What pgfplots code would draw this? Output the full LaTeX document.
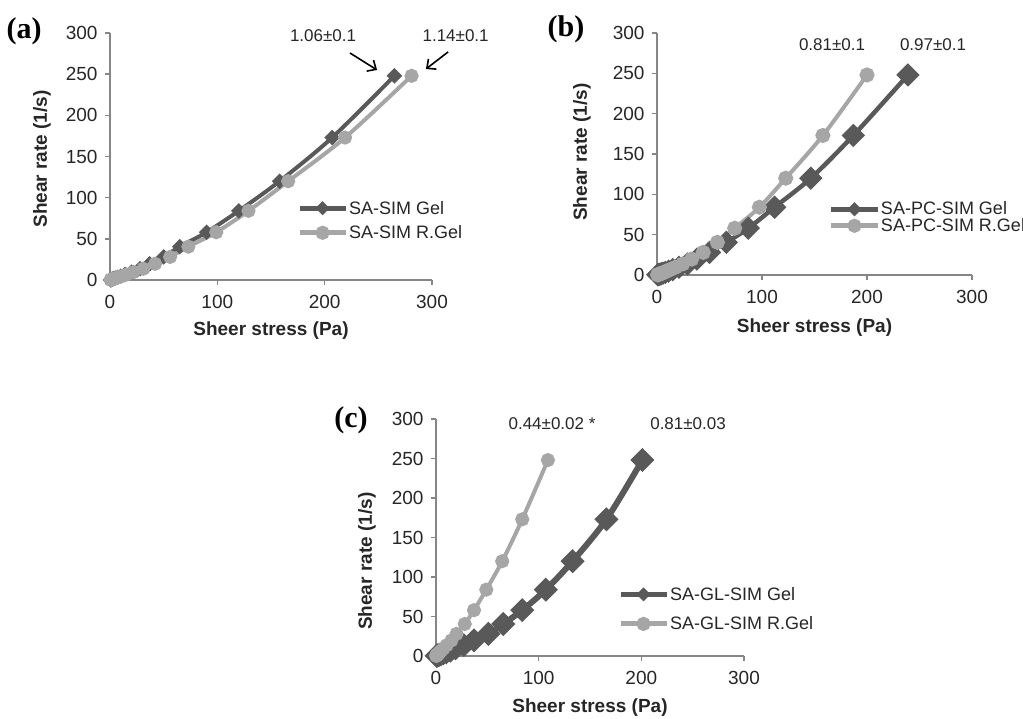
\documentclass[border=0pt]{standalone}
\usepackage{fontspec}
\setmainfont{Liberation Sans}
\newfontfamily\panelfont{Liberation Serif}
\usepackage{pgfplots}
\pgfplotsset{compat=1.18}
\usetikzlibrary{arrows.meta}

\definecolor{gelc}{HTML}{595959}
\definecolor{rgelc}{HTML}{A6A6A6}
\definecolor{axc}{HTML}{868686}
\definecolor{txt}{HTML}{262626}

\tikzset{ann/.style={font=\fontsize{17}{17}\selectfont, text=txt}}

\pgfplotsset{
  panel/.style={
    scale only axis, enlargelimits=false, clip=false,
    anchor=south west,
    xmin=0, xmax=300, ymin=0, ymax=300,
    xtick={0,100,200,300}, ytick={0,50,...,300},
    axis lines=left,
    axis line style={-, axc, line width=1.5pt},
    tick style={axc, line width=1.5pt},
    tick align=outside, major tick length=5pt,
    tick label style={font=\fontsize{19}{19}\selectfont, text=txt},
    xticklabel style={yshift=-7pt},
    yticklabel style={xshift=-4pt},
    /pgf/number format/assume math mode=true,
    label style={font=\fontsize{19}{19}\selectfont\bfseries, text=txt},
    xlabel={Sheer stress (Pa)},
    ylabel={Shear rate (1/s)},
    legend style={draw=none, fill=none, inner sep=0pt, outer sep=0pt,
      font=\fontsize{18}{18}\selectfont, text=txt,
      nodes={inner sep=1pt}, cells={anchor=west}},
    legend image code/.code={
      \draw[mark repeat=2, mark phase=2, #1]
        plot coordinates {(0pt,0pt) (23pt,0pt) (46pt,0pt)};},
  },
  gel/.style={gelc, smooth, mark=square*, mark options={rotate=45, solid, fill=gelc}},
  rgel/.style={rgelc, smooth, mark=*, mark options={solid, fill=rgelc}},
}

\begin{document}
\begin{tikzpicture}[x=1pt, y=1pt]
\useasboundingbox (0,0) rectangle (1023,718);
\coordinate (pa) at (110,438);
\coordinate (pb) at (657,443);
\coordinate (pc) at (436,62);

% (a)
\begin{axis}[panel, at={(pa)}, width=322pt, height=247pt,
  xlabel style={at={(axis description cs:0.5,-0.206)}, anchor=center},
  ylabel style={at={(axis description cs:-0.211,0.49)}, anchor=center},
  legend style={at={(axis description cs:0.581,0.324)}, anchor=north west, row sep=8pt}]
\addplot[gel, line width=4pt, mark size=3.5pt, legend image post style={mark size=2.5pt, line width=5pt}]
  coordinates {(0.5,0.26) (0.8,0.38) (1.2,0.54) (1.7,0.78) (2.5,1.1) (3.5,1.6) (5,2.3) (7,3.3) (10,4.7) (14,6.7) (20,9.6) (28,13.7) (37,19.7) (50,28) (65,40.5) (90,58) (120,84) (158,120) (207,173) (265,248)};
\addlegendentry{SA-SIM Gel}
\addplot[rgel, line width=4pt, mark size=5pt, legend image post style={mark size=4.5pt, line width=5pt}]
  coordinates {(0.6,0.26) (0.9,0.38) (1.3,0.54) (1.9,0.78) (2.7,1.1) (3.9,1.6) (5.5,2.3) (7.8,3.3) (11,4.7) (15.5,6.7) (22,9.6) (31,13.7) (42,19.7) (56,28) (73,40.5) (99,58) (129,84) (166,120) (219,173) (281,248)};
\addlegendentry{SA-SIM R.Gel}
\node[ann] at (axis cs:198.5,296.4) {1.06±0.1};
\node[ann] at (axis cs:322,296.4) {1.14±0.1};
\draw[-{Straight Barb[length=7pt, width=13pt]}, line width=1.6pt, black] (axis cs:223.6,275.7) -- (axis cs:248.8,255.1);
\draw[-{Straight Barb[length=7pt, width=13pt]}, line width=1.6pt, black] (axis cs:315,277) -- (axis cs:294.4,256.3);
\end{axis}

% (b)
\begin{axis}[panel, at={(pb)}, width=315pt, height=242pt,
  xlabel style={at={(axis description cs:0.5,-0.219)}, anchor=center},
  ylabel style={at={(axis description cs:-0.238,0.508)}, anchor=center},
  legend style={at={(axis description cs:0.546,0.306)}, anchor=north west, row sep=0pt}]
\addplot[gel, line width=4.5pt, mark size=6pt, legend image post style={mark size=2.5pt, line width=5pt}]
  coordinates {(0.7,0.26) (1,0.38) (1.5,0.54) (2.1,0.78) (3,1.1) (4.2,1.6) (5.8,2.3) (8,3.3) (11,4.7) (15,6.7) (21,9.6) (29,13.7) (38,19.7) (50,28) (66,40.5) (87,58) (112,84) (146.5,120) (187,173) (239,248)};
\addlegendentry{SA-PC-SIM Gel}
\addplot[rgel, line width=4pt, mark size=5.5pt, legend image post style={mark size=4.5pt, line width=5pt}]
  coordinates {(0.6,0.26) (0.8,0.38) (1.2,0.54) (1.7,0.78) (2.4,1.1) (3.4,1.6) (4.7,2.3) (6.5,3.3) (9,4.7) (12.5,6.7) (17.6,9.6) (24.5,13.7) (33,19.7) (44,28) (57.5,40.5) (74,58) (97.5,84) (122.6,120) (158,173) (200,248)};
\addlegendentry{SA-PC-SIM R.Gel}
\node[ann] at (axis cs:166.7,285) {0.81±0.1};
\node[ann] at (axis cs:262.9,285) {0.97±0.1};
\end{axis}

% (c)
\begin{axis}[panel, at={(pc)}, width=308pt, height=237pt,
  xlabel style={at={(axis description cs:0.5,-0.219)}, anchor=center},
  ylabel style={at={(axis description cs:-0.224,0.40)}, anchor=center},
  legend style={at={(axis description cs:0.591,0.295)}, anchor=north west, row sep=13pt}]
\addplot[gel, line width=6pt, mark size=5.5pt, legend image post style={mark size=2.5pt, line width=5pt}]
  coordinates {(0.6,0.26) (0.9,0.38) (1.3,0.54) (1.8,0.78) (2.5,1.1) (3.6,1.6) (5,2.3) (7,3.3) (10,4.7) (14,6.7) (19,9.6) (27,13.7) (37,19.7) (51,28) (65.5,40.5) (84,58) (107,84) (133,120) (166,173) (201,248)};
\addlegendentry{SA-GL-SIM Gel}
\addplot[rgel, line width=4pt, mark size=5pt, legend image post style={mark size=4.5pt, line width=5pt}]
  coordinates {(0.2,0.26) (0.3,0.38) (0.4,0.54) (0.55,0.78) (0.8,1.1) (1.2,1.6) (1.7,2.3) (2.5,3.3) (3.5,4.7) (5,6.7) (7.3,9.6) (10.5,13.7) (15,19.7) (20,28) (28,40.5) (37,58) (49,84) (64.5,120) (84,173) (109,248)};
\addlegendentry{SA-GL-SIM R.Gel}
\node[ann] at (axis cs:113,293.7) {0.44±0.02 *};
\node[ann] at (axis cs:245.5,293.7) {0.81±0.03};
\end{axis}

\node[font=\panelfont\bfseries\fontsize{30}{30}\selectfont, text=black] at (24,687) {(a)};
\node[font=\panelfont\bfseries\fontsize{30}{30}\selectfont, text=black] at (566,689) {(b)};
\node[font=\panelfont\bfseries\fontsize{30}{30}\selectfont, text=black] at (351,298) {(c)};
\end{tikzpicture}
\end{document}
